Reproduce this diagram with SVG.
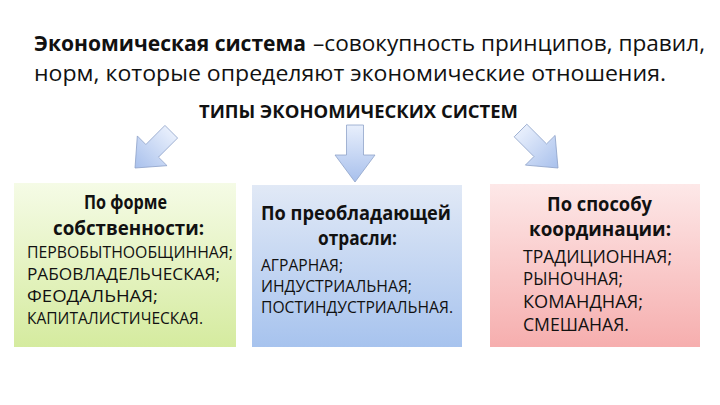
<svg xmlns="http://www.w3.org/2000/svg" width="720" height="405" viewBox="0 0 720 405">
<defs>
<style>
text{font-family:"Open Sans","Noto Sans","Liberation Sans",sans-serif;fill:#111}
.t1{font-size:22px}
.b{font-weight:bold}
.h{font-size:20px;font-weight:bold}
.s{font-size:17px}
.s3{font-size:18px}
.arrow{fill:url(#ga);stroke:#8fa3c9;stroke-width:0.8;stroke-linejoin:round}
</style>
<linearGradient id="ga" x1="0" y1="0" x2="0" y2="1">
<stop offset="0" stop-color="#e8effc"/>
<stop offset="1" stop-color="#a8c0ec"/>
</linearGradient>
<linearGradient id="g1" x1="0" y1="0" x2="0" y2="1">
<stop offset="0" stop-color="#f5fbe6"/>
<stop offset="1" stop-color="#d5eb9f"/>
</linearGradient>
<linearGradient id="g2" x1="0" y1="0" x2="0" y2="1">
<stop offset="0" stop-color="#e1e9f6"/>
<stop offset="1" stop-color="#a7c3ee"/>
</linearGradient>
<linearGradient id="g3" x1="0" y1="0" x2="0" y2="1">
<stop offset="0" stop-color="#fde8e8"/>
<stop offset="1" stop-color="#f6aeae"/>
</linearGradient>
<path id="arr" d="M-8.5,-57 L8.5,-57 L8.5,-27 L20,-27 L0,0 L-20,-27 L-8.5,-27 Z"/>
</defs>
<rect width="720" height="405" fill="#fff"/>
<g id="title">
<text x="34" y="51" class="t1 b" textLength="272" lengthAdjust="spacingAndGlyphs">Экономическая система</text>
<text x="313" y="51" class="t1" textLength="392" lengthAdjust="spacingAndGlyphs">–совокупность принципов, правил,</text>
<text x="34" y="81" class="t1" textLength="632" lengthAdjust="spacingAndGlyphs">норм, которые определяют экономические отношения.</text>
</g>
<g id="types">
<text x="199" y="118" font-size="18" class="b" textLength="319" lengthAdjust="spacingAndGlyphs">ТИПЫ ЭКОНОМИЧЕСКИХ СИСТЕМ</text>
</g>
<g id="connectors">
<use href="#arr" class="arrow" transform="translate(135,168) rotate(45) scale(1.05,0.9)"/>
<use href="#arr" class="arrow" transform="translate(355,182)"/>
<use href="#arr" class="arrow" transform="translate(558,168) rotate(-45) scale(1.05,0.93)"/>
</g>
<g id="box1">
<rect x="14" y="183" width="222" height="164" fill="url(#g1)"/>
<text x="84" y="209" class="h" textLength="83" lengthAdjust="spacingAndGlyphs">По форме</text>
<text x="53" y="235" class="h" textLength="151" lengthAdjust="spacingAndGlyphs">собственности:</text>
<text x="27" y="258" class="s" textLength="206" lengthAdjust="spacingAndGlyphs">ПЕРВОБЫТНООБЩИННАЯ;</text>
<text x="27" y="280" class="s" textLength="193" lengthAdjust="spacingAndGlyphs">РАБОВЛАДЕЛЬЧЕСКАЯ;</text>
<text x="27" y="302" class="s" textLength="131" lengthAdjust="spacingAndGlyphs">ФЕОДАЛЬНАЯ;</text>
<text x="27" y="324" class="s" textLength="176" lengthAdjust="spacingAndGlyphs">КАПИТАЛИСТИЧЕСКАЯ.</text>
</g>
<g id="box2">
<rect x="252" y="185" width="210" height="162" fill="url(#g2)"/>
<text x="261" y="220" class="h" textLength="190" lengthAdjust="spacingAndGlyphs">По преобладающей</text>
<text x="318" y="245" class="h" textLength="79" lengthAdjust="spacingAndGlyphs">отрасли:</text>
<text x="261" y="271" class="s" textLength="82" lengthAdjust="spacingAndGlyphs">АГРАРНАЯ;</text>
<text x="261" y="292" class="s" textLength="151" lengthAdjust="spacingAndGlyphs">ИНДУСТРИАЛЬНАЯ;</text>
<text x="261" y="313" class="s" textLength="192" lengthAdjust="spacingAndGlyphs">ПОСТИНДУСТРИАЛЬНАЯ.</text>
</g>
<g id="box3">
<rect x="490" y="184" width="210" height="163" fill="url(#g3)"/>
<text x="547" y="211" class="h" textLength="105" lengthAdjust="spacingAndGlyphs">По способу</text>
<text x="529" y="236" class="h" textLength="142" lengthAdjust="spacingAndGlyphs">координации:</text>
<text x="523" y="263" class="s3" textLength="149" lengthAdjust="spacingAndGlyphs">ТРАДИЦИОННАЯ;</text>
<text x="523" y="285" class="s3" textLength="100" lengthAdjust="spacingAndGlyphs">РЫНОЧНАЯ;</text>
<text x="523" y="308" class="s3" textLength="120" lengthAdjust="spacingAndGlyphs">КОМАНДНАЯ;</text>
<text x="523" y="331" class="s3" textLength="106" lengthAdjust="spacingAndGlyphs">СМЕШАНАЯ.</text>
</g>
</svg>
